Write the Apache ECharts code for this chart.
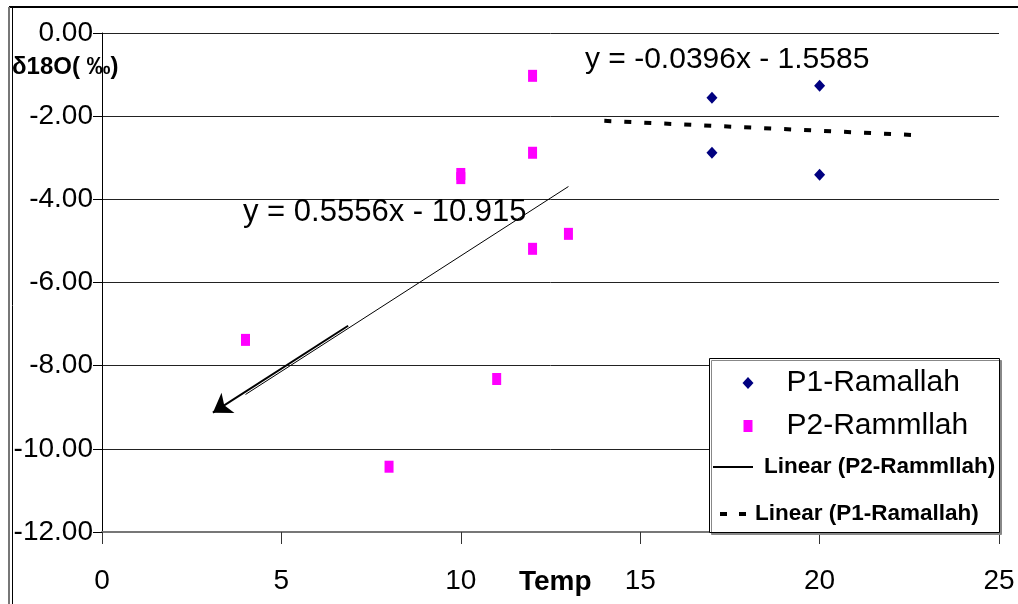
<!DOCTYPE html>
<html>
<head>
<meta charset="utf-8">
<script src="https://cdn.jsdelivr.net/npm/echarts@6/dist/echarts.min.js"></script>
<style>
html,body{margin:0;padding:0;background:#fff;}
#chart{width:1018px;height:604px;}
</style>
</head>
<body>
<div id="chart"></div>
<script>
// ---- data ----
const xTickValues = [0, 5, 10, 15, 20, 25];
const yTickValues = [0, -2, -4, -6, -8, -10, -12];
const p1Name = 'P1-Ramallah';
const p2Name = 'P2-Rammllah';
const p2TrendName = 'Linear (P2-Rammllah)';
const p1TrendName = 'Linear (P1-Ramallah)';
const p1Temp = [17, 20, 17, 20];
const p1Delta = [-1.56, -1.27, -2.88, -3.41];
const p2Temp = [4, 8, 10, 10, 11, 12, 12, 12, 13];
const p2Delta = [-7.38, -10.43, -3.39, -3.49, -8.32, -1.03, -2.88, -5.19, -4.83];
const p1TrendX = [14, 22.6];
const p1TrendY = [-2.113, -2.453];
const p2TrendX = [4, 13];
const p2TrendY = [-8.693, -3.692];
const arrowX = [6.86, 3.09];
const arrowY = [-7.04, -9.13];
const eqP1 = 'y = -0.0396x - 1.5585';
const eqP2 = 'y = 0.5556x - 10.915';
const yAxisTitle = 'δ18O( ‰)';
const xAxisTitle = 'Temp';

const zip = (xs, ys) => xs.map((x, i) => [x, ys[i]]);
const FONT = '"Liberation Sans", Arial, sans-serif';

const chart = echarts.init(document.getElementById('chart'), null, {renderer: 'canvas'});

const legendBase = {
  orient: 'vertical', padding: 0, selectedMode: false, z: 6,
  inactiveColor: '#000'
};
const noSymbol = {color: 'transparent', borderColor: 'transparent', borderWidth: 0, opacity: 0};

chart.setOption({
  backgroundColor: '#fff',
  animation: false,
  grid: {left: 102, right: 19, top: 33, bottom: 72, containLabel: false, outerBoundsMode: 'none'},
  xAxis: {
    type: 'value', min: 0, max: 25, interval: 5,
    axisLine: {show: true, onZero: false, lineStyle: {color: '#777', width: 2}},
    axisTick: {show: true, inside: false, length: 12, lineStyle: {color: '#333', width: 1}},
    axisLabel: {margin: 35, fontFamily: FONT, fontSize: 28, color: '#000',
      formatter: v => xTickValues.includes(v) ? String(v) : ''},
    splitLine: {show: false}
  },
  yAxis: {
    type: 'value', min: -12, max: 0, interval: 2,
    axisLine: {show: true, onZero: false, lineStyle: {color: '#000', width: 1}},
    axisTick: {show: true, inside: false, length: 9, lineStyle: {color: '#000', width: 1}},
    axisLabel: {margin: 9, fontFamily: FONT, fontSize: 28, color: '#000',
      formatter: v => yTickValues.includes(v) ? v.toFixed(2) : ''},
    splitLine: {show: true, lineStyle: {color: '#222', width: 1}}
  },
  legend: [
    Object.assign({}, legendBase, {
      left: 742.5, top: 368, itemWidth: 11, itemHeight: 12,
      data: [{name: p1Name, icon: 'diamond'}],
      textStyle: {fontFamily: FONT, fontSize: 30, color: '#000', lineHeight: 30, padding: [0, 0, 0, 28]}
    }),
    Object.assign({}, legendBase, {
      left: 743.5, top: 411, itemWidth: 9, itemHeight: 12,
      data: [{name: p2Name, icon: 'rect'}],
      textStyle: {fontFamily: FONT, fontSize: 30, color: '#000', lineHeight: 30, padding: [0, 0, 0, 29]}
    }),
    Object.assign({}, legendBase, {
      left: 712, top: 455, itemWidth: 40, itemHeight: 14,
      data: [{name: p2TrendName}],
      itemStyle: noSymbol,
      textStyle: {fontFamily: FONT, fontSize: 22.5, fontWeight: 'bold', color: '#000', lineHeight: 24, padding: [0, 0, 0, 6]}
    }),
    Object.assign({}, legendBase, {
      left: 712, top: 502, itemWidth: 44, itemHeight: 14,
      data: [{name: p1TrendName}],
      itemStyle: noSymbol,
      lineStyle: {color: '#000', width: 4, type: [7, 12], dashOffset: 13, cap: 'butt'},
      textStyle: {fontFamily: FONT, fontSize: 22.5, fontWeight: 'bold', color: '#000', lineHeight: 24, padding: [0, 0, 0, -8]}
    })
  ],
  graphic: [
    // outer chart frame
    {type: 'line', z: 10, shape: {x1: 9, y1: 7, x2: 1018, y2: 7}, style: {stroke: '#000', lineWidth: 2}},
    {type: 'line', z: 10, shape: {x1: 9, y1: 7, x2: 9, y2: 604}, style: {stroke: '#777', lineWidth: 2}},
    {type: 'line', z: 10, shape: {x1: 12.5, y1: 7, x2: 12.5, y2: 604}, style: {stroke: '#000', lineWidth: 1}},
    // legend box
    {type: 'rect', z: 5, shape: {x: 709.5, y: 358.5, width: 290, height: 174},
      style: {fill: '#fff', stroke: '#000', lineWidth: 1, shadowColor: '#888', shadowOffsetX: 2, shadowOffsetY: 2, shadowBlur: 0}},
    // axis titles and trendline equations
    {type: 'text', z: 10, left: 12, top: 55,
      style: {text: yAxisTitle, fontFamily: FONT, fontSize: 24, fontWeight: 'bold', fill: '#000'}},
    {type: 'text', z: 10, left: 519, top: 568,
      style: {text: xAxisTitle, fontFamily: FONT, fontSize: 28, fontWeight: 'bold', fill: '#000'}},
    {type: 'text', z: 10, left: 585, top: 45,
      style: {text: eqP1, fontFamily: FONT, fontSize: 30, fill: '#000'}},
    {type: 'text', z: 10, left: 243, top: 197,
      style: {text: eqP2, fontFamily: FONT, fontSize: 31, fill: '#000'}}
  ],
  series: [
    {name: p1Name, type: 'scatter', data: zip(p1Temp, p1Delta), symbol: 'diamond', symbolSize: [11, 12],
      itemStyle: {color: '#000080', opacity: 1}, z: 4},
    {name: p2Name, type: 'scatter', data: zip(p2Temp, p2Delta), symbol: 'rect', symbolSize: [9, 12],
      itemStyle: {color: '#FF00FF', opacity: 1}, z: 4},
    {name: p2TrendName, type: 'line', data: zip(p2TrendX, p2TrendY), symbol: 'none', showSymbol: false,
      lineStyle: {color: '#000', width: 1}, itemStyle: {color: '#000'}, z: 3,
      markLine: {silent: true, symbol: ['none', 'arrow'], symbolSize: 18, label: {show: false},
        lineStyle: {color: '#000', width: 2, type: 'solid', opacity: 1},
        itemStyle: {color: '#000', opacity: 1},
        data: [[{coord: [arrowX[0], arrowY[0]]}, {coord: [arrowX[1], arrowY[1]]}]]}},
    {name: p1TrendName, type: 'line', data: zip(p1TrendX, p1TrendY), symbol: 'none', showSymbol: false,
      lineStyle: {color: '#000', width: 4, type: [7, 13], cap: 'butt'}, itemStyle: {color: '#000'}, z: 3}
  ]
});
</script>
</body>
</html>
